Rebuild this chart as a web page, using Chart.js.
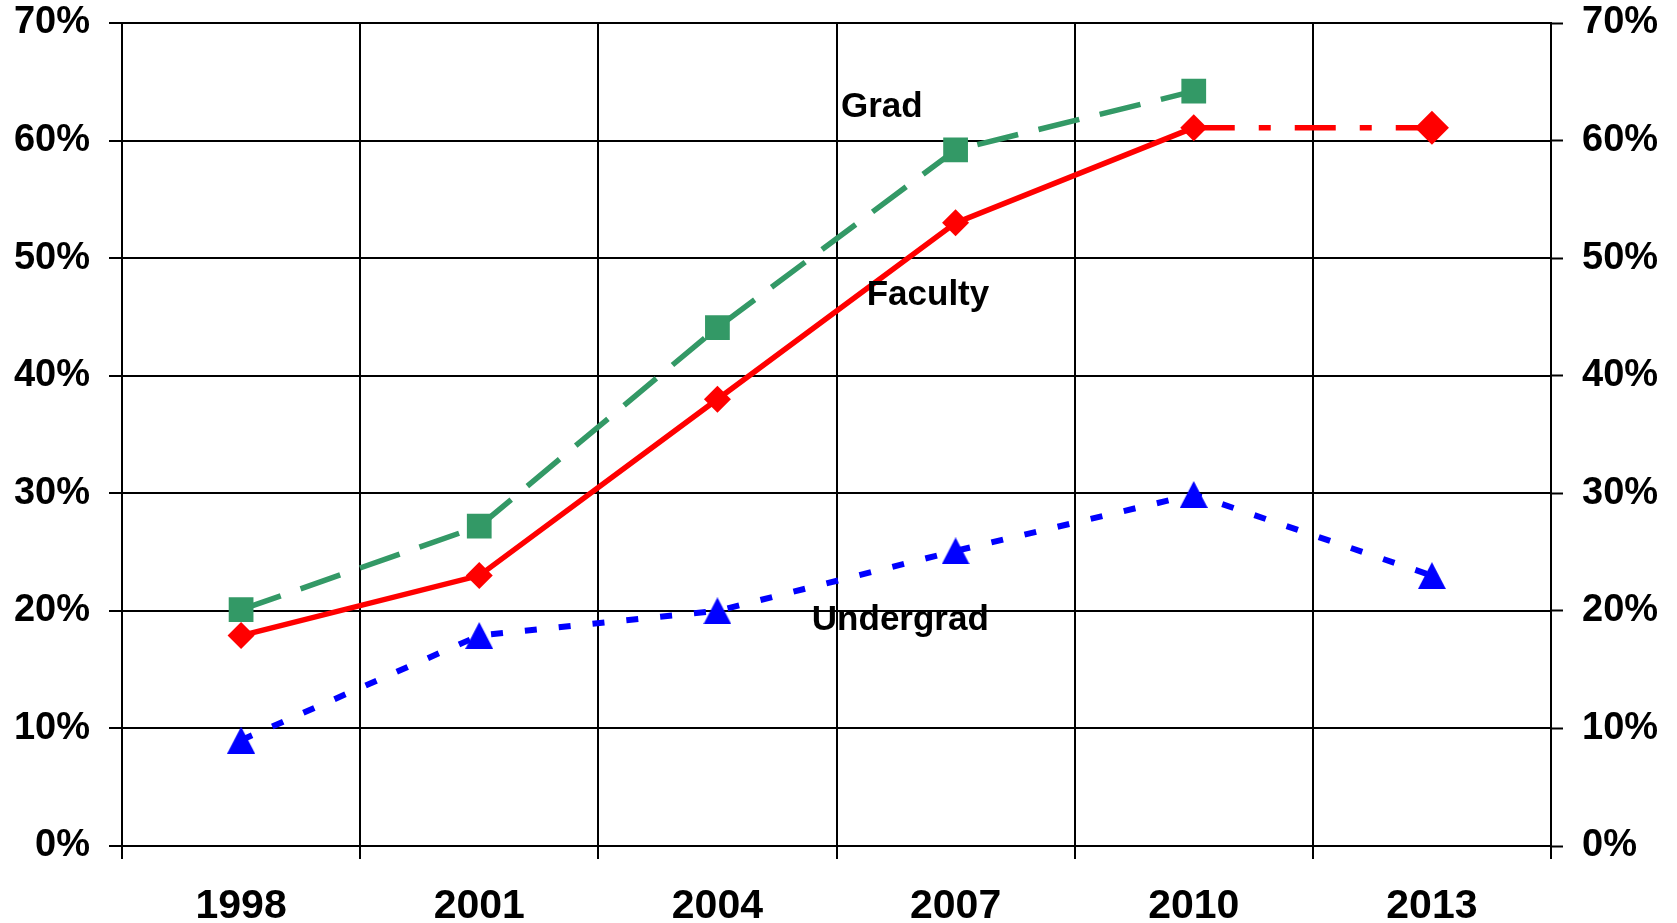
<!DOCTYPE html>
<html>
<head>
<meta charset="utf-8">
<script src="https://cdn.jsdelivr.net/npm/chart.js@4.4.1/dist/chart.umd.min.js"></script>
<style>
    html, body { margin: 0; padding: 0; background: #fff; }
    #wrap { width: 1677px; height: 923px; position: relative; }
</style>
</head>
<body>
<div id="wrap"><canvas id="myChart"></canvas></div>
<script>
const years = ['1998', '2001', '2004', '2007', '2010', '2013'];
const gradValues = [20.1, 27.2, 44.1, 59.2, 64.2, null];
const facultyValues = [17.9, 23.0, 38.0, 53.0, 61.1, 61.1];
const undergradValues = [9.0, 17.9, 20.0, 25.1, 29.9, 23.0];
const yTicks = [0, 10, 20, 30, 40, 50, 60, 70];

// series labels written on the plot: name, category position, value of baseline
const seriesNames = ['Grad', 'Faculty', 'Undergrad'];
const nameX = [2.69, 2.884, 2.768];
const nameY = [62.0, 46.0, 18.35];

const FONT = '"Liberation Sans", Arial, sans-serif';

// triangle marker centred on its box like the spreadsheet one
function triangleMarker(w, h, color) {
    const c = document.createElement('canvas');
    c.width = w;
    c.height = h;
    const g = c.getContext('2d');
    g.fillStyle = color;
    g.beginPath();
    g.moveTo(w / 2, 0);
    g.lineTo(w, h);
    g.lineTo(0, h);
    g.closePath();
    g.fill();
    return c;
}

const seriesLabels = {
    id: 'seriesLabels',
    afterDatasetsDraw(chart) {
        const ctx = chart.ctx;
        const xs = chart.scales.x;
        const ys = chart.scales.y;
        ctx.save();
        ctx.font = 'bold 35px ' + FONT;
        ctx.fillStyle = '#000';
        ctx.textAlign = 'center';
        ctx.textBaseline = 'alphabetic';
        seriesNames.forEach((name, i) => {
            ctx.fillText(name, xs.getPixelForValue(nameX[i]), ys.getPixelForValue(nameY[i]));
        });
        ctx.restore();
    }
};

const pctTick = v => v + '%';

// fixed width for the value axes, no extra vertical padding from tick padding
const fitY = w => s => {
    s.width = w;
    s.paddingTop = 0;
    s.paddingBottom = 0;
};

const data = {
    labels: years,
    datasets: [{
        label: 'Grad',
        data: gradValues,
        borderColor: '#339966',
        backgroundColor: '#339966',
        borderWidth: 5.5,
        borderDash: [42, 21],
        pointStyle: 'rect',
        pointRadius: 17.5,
        pointBorderWidth: 0,
        spanGaps: false
    }, {
        label: 'Faculty',
        data: facultyValues,
        borderColor: '#ff0000',
        backgroundColor: '#ff0000',
        borderWidth: 5.5,
        pointStyle: 'rectRot',
        pointRadius: [13.5, 13.5, 13.5, 13.5, 13.5, 17],
        pointBorderWidth: 0,
        segment: {
            borderDash: c => c.p1DataIndex === 5 ? [41, 24, 12, 24] : undefined
        }
    }, {
        label: 'Undergrad',
        data: undergradValues,
        borderColor: '#0000ff',
        backgroundColor: '#0000ff',
        borderWidth: 6,
        borderDash: [12, 22],
        pointStyle: triangleMarker(28, 27, '#0000ff'),
        pointRadius: 14,
        pointBorderWidth: 0
    }]
};

const config = {
    type: 'line',
    data: data,
    options: {
        responsive: true,
        maintainAspectRatio: false,
        animation: false,
        layout: {
            padding: { top: 23, left: 0, right: 0, bottom: 0 }
        },
        plugins: {
            legend: { display: false },
            tooltip: { enabled: false }
        },
        scales: {
            x: {
                type: 'category',
                offset: true,
                grid: {
                    offset: true,
                    color: '#000',
                    lineWidth: 2,
                    tickLength: 13,
                    tickColor: '#000',
                    tickWidth: 2
                },
                border: { color: '#000', width: 2 },
                ticks: {
                    color: '#000',
                    padding: 23,
                    maxRotation: 0,
                    font: { family: FONT, size: 41, weight: 'bold' }
                },
                afterFit: s => { s.height = 77; }
            },
            y: {
                position: 'left',
                min: 0,
                max: 70,
                afterBuildTicks: s => { s.ticks = yTicks.map(v => ({ value: v })); },
                grid: {
                    color: '#000',
                    lineWidth: 2,
                    tickLength: 13,
                    tickColor: '#000',
                    tickWidth: 2
                },
                border: { color: '#000', width: 2 },
                ticks: {
                    color: '#000',
                    padding: 19,
                    callback: pctTick,
                    font: { family: FONT, size: 38, weight: 'bold' }
                },
                afterFit: fitY(122)
            },
            y2: {
                position: 'right',
                min: 0,
                max: 70,
                afterBuildTicks: s => { s.ticks = yTicks.map(v => ({ value: v })); },
                grid: {
                    drawOnChartArea: false,
                    tickLength: 12,
                    tickColor: '#000',
                    tickWidth: 2
                },
                border: { color: '#000', width: 2 },
                ticks: {
                    color: '#000',
                    padding: 19,
                    callback: pctTick,
                    font: { family: FONT, size: 38, weight: 'bold' }
                },
                afterFit: fitY(126)
            }
        }
    },
    plugins: [seriesLabels]
};

const myChart = new Chart(document.getElementById('myChart'), config);
</script>
</body>
</html>
